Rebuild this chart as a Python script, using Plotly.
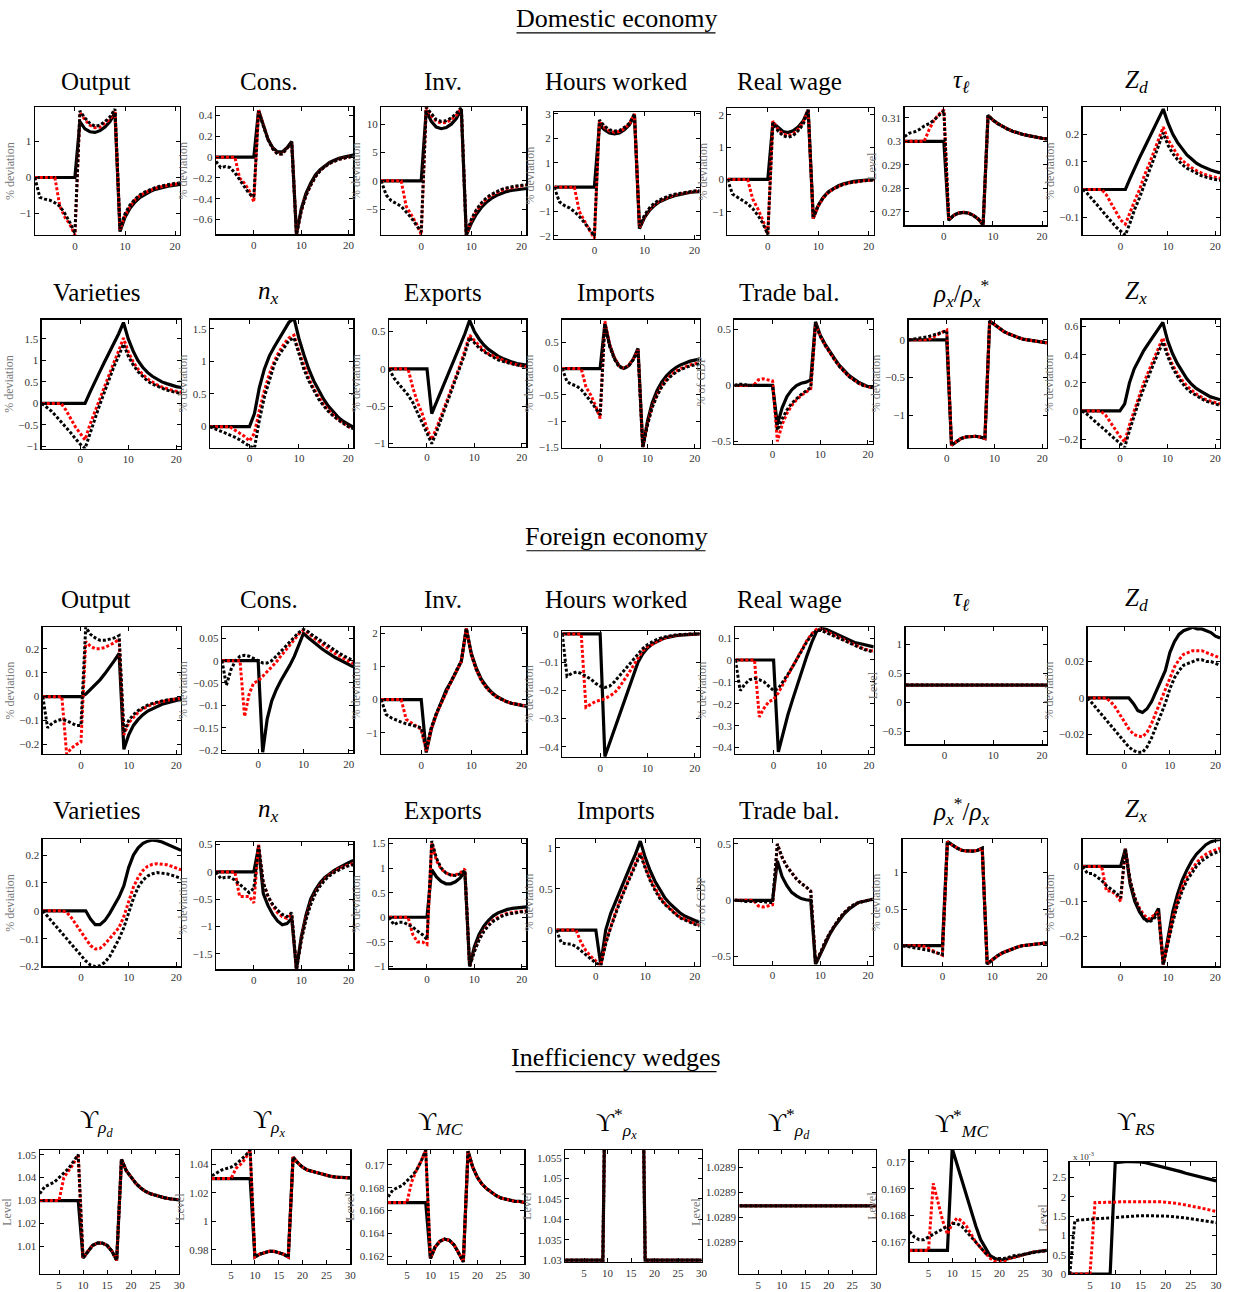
import plotly.graph_objects as go

# ---------------- time axes ----------------
t = list(range(-8, 22))          # periods for the economy panels
w = list(range(1, 31))           # periods for the wedge panels

# ---------------- Domestic economy ----------------
dom_output_solid = [0,0,0,0,0,0,0,0,0, 1.55,1.35,1.27,1.25,1.30,1.40,1.55,1.80, -1.50,-1.10,-0.85,-0.68,-0.55,-0.46,-0.39,-0.33,-0.29,-0.26,-0.23,-0.21,-0.19]
dom_output_red   = [0,0,0,0,0,-0.8,-1.1,-1.3,-1.6, 1.8,1.6,1.45,1.38,1.4,1.5,1.62,1.85, -1.45,-1.05,-0.8,-0.62,-0.5,-0.42,-0.35,-0.3,-0.26,-0.23,-0.2,-0.18,-0.16]
dom_output_black = [0,-0.55,-0.6,-0.63,-0.7,-0.8,-1.0,-1.25,-1.55, 1.85,1.65,1.5,1.42,1.45,1.55,1.68,1.9, -1.42,-1.0,-0.76,-0.6,-0.48,-0.4,-0.33,-0.28,-0.24,-0.21,-0.18,-0.16,-0.15]

dom_cons_solid = [0,0,0,0,0,0,0,0,0, 0.45,0.30,0.17,0.09,0.05,0.05,0.09,0.15, -0.74,-0.50,-0.35,-0.25,-0.17,-0.12,-0.08,-0.05,-0.03,-0.01,0.00,0.01,0.02]
dom_cons_red   = [0,0,0,0,0,-0.2,-0.25,-0.32,-0.43, 0.45,0.30,0.17,0.08,0.03,0.03,0.08,0.14, -0.74,-0.52,-0.37,-0.27,-0.19,-0.13,-0.09,-0.06,-0.04,-0.02,-0.01,0.00,0.01]
dom_cons_black = [-0.04,-0.1,-0.09,-0.1,-0.15,-0.22,-0.28,-0.35,-0.38, 0.44,0.30,0.17,0.08,0.03,0.03,0.08,0.14, -0.74,-0.52,-0.37,-0.27,-0.19,-0.13,-0.09,-0.06,-0.04,-0.02,-0.01,0.00,0.01]

dom_inv_solid = [0,0,0,0,0,0,0,0,0, 12.5,10.5,9.5,9.2,9.4,10.0,11.0,12.6, -9.6,-7.5,-5.9,-4.7,-3.8,-3.1,-2.6,-2.2,-1.9,-1.7,-1.55,-1.45,-1.35]
dom_inv_red   = [0,0,0,0,0,-4.5,-6.0,-7.5,-9.5, 13.0,11.5,10.5,10.2,10.3,10.8,11.6,12.8, -9.6,-7.0,-5.3,-4.1,-3.2,-2.6,-2.1,-1.7,-1.4,-1.2,-1.0,-0.9,-0.8]
dom_inv_black = [0,-2.5,-3.5,-4.0,-4.5,-5.5,-6.5,-7.8,-9.0, 13.0,11.8,10.8,10.5,10.6,11.1,11.9,13.0, -9.5,-6.8,-5.1,-3.9,-3.0,-2.4,-1.9,-1.5,-1.25,-1.05,-0.9,-0.8,-0.7]

dom_hours_solid = [0,0,0,0,0,0,0,0,0, 2.55,2.35,2.22,2.18,2.22,2.35,2.55,2.95, -1.7,-1.25,-0.95,-0.75,-0.6,-0.5,-0.42,-0.35,-0.3,-0.26,-0.22,-0.2,-0.18]
dom_hours_red   = [0,0,0,0,0,-1.0,-1.4,-1.75,-2.1, 2.7,2.45,2.3,2.25,2.28,2.4,2.6,3.0, -1.65,-1.2,-0.9,-0.7,-0.56,-0.46,-0.38,-0.32,-0.27,-0.23,-0.2,-0.17,-0.15]
dom_hours_black = [0,-0.6,-0.75,-0.85,-1.0,-1.2,-1.45,-1.75,-2.0, 2.75,2.5,2.35,2.3,2.32,2.45,2.62,3.0, -1.6,-1.15,-0.85,-0.65,-0.52,-0.42,-0.35,-0.29,-0.25,-0.21,-0.18,-0.16,-0.14]

dom_wage_solid = [0,0,0,0,0,0,0,0,0, 1.75,1.6,1.48,1.45,1.5,1.62,1.8,2.15, -1.2,-0.8,-0.55,-0.38,-0.27,-0.19,-0.13,-0.09,-0.06,-0.04,-0.02,-0.01,0.0]
dom_wage_red   = [0,0,0,0,0,-0.6,-0.9,-1.25,-1.7, 1.8,1.55,1.4,1.35,1.4,1.55,1.75,2.15, -1.2,-0.82,-0.57,-0.4,-0.29,-0.21,-0.15,-0.11,-0.08,-0.06,-0.04,-0.03,-0.02]
dom_wage_black = [0,-0.45,-0.55,-0.65,-0.75,-0.9,-1.1,-1.35,-1.7, 1.75,1.5,1.35,1.3,1.35,1.5,1.7,2.15, -1.15,-0.8,-0.56,-0.4,-0.29,-0.21,-0.15,-0.11,-0.08,-0.06,-0.04,-0.03,-0.02]

dom_tau_solid = [0.3,0.3,0.3,0.3,0.3,0.3,0.3,0.3,0.3, 0.2665,0.2685,0.2695,0.2698,0.2695,0.2685,0.267,0.2645, 0.311,0.309,0.3075,0.3062,0.3052,0.3043,0.3035,0.303,0.3025,0.302,0.3017,0.3013,0.301]
dom_tau_red   = [0.3,0.3,0.3,0.3,0.3,0.305,0.309,0.3115,0.3135, 0.2665,0.2685,0.2695,0.2698,0.2695,0.2685,0.267,0.2645, 0.311,0.309,0.3075,0.3062,0.3052,0.3043,0.3035,0.303,0.3025,0.302,0.3017,0.3013,0.301]
dom_tau_black = [0.302,0.3035,0.304,0.305,0.3065,0.3075,0.309,0.311,0.313, 0.2665,0.2685,0.2695,0.2698,0.2695,0.2685,0.267,0.2645, 0.311,0.309,0.3075,0.3062,0.3052,0.3043,0.3035,0.303,0.3025,0.302,0.3017,0.3013,0.301]

dom_zd_solid = [0,0,0,0,0,0,0,0,0,0, 0.04,0.08,0.115,0.15,0.185,0.22,0.255, 0.29,0.24,0.2,0.17,0.145,0.125,0.11,0.095,0.085,0.077,0.07,0.065,0.06]
dom_zd_red   = [0,0,0,0,0,-0.02,-0.05,-0.08,-0.11, -0.125,-0.08,-0.04,0.0,0.05,0.09,0.135,0.18, 0.225,0.18,0.15,0.125,0.105,0.09,0.078,0.068,0.06,0.053,0.048,0.043,0.04]
dom_zd_black = [0,-0.015,-0.035,-0.055,-0.075,-0.095,-0.115,-0.135,-0.15, -0.165,-0.12,-0.07,-0.03,0.02,0.065,0.11,0.16, 0.205,0.16,0.13,0.108,0.09,0.077,0.067,0.058,0.05,0.045,0.04,0.036,0.033]

dom_var_solid = [0,0,0,0,0,0,0,0,0,0, 0.25,0.5,0.72,0.95,1.17,1.4,1.62, 1.88,1.5,1.22,1.0,0.84,0.72,0.63,0.56,0.5,0.46,0.42,0.39,0.37]
dom_var_red   = [0,0,0,0,0,-0.15,-0.35,-0.55,-0.7, -0.85,-0.5,-0.2,0.1,0.38,0.66,0.95,1.22, 1.52,1.2,0.97,0.8,0.67,0.57,0.49,0.43,0.38,0.34,0.31,0.28,0.26]
dom_var_black = [0,-0.08,-0.18,-0.3,-0.42,-0.55,-0.68,-0.82,-0.95, -1.05,-0.7,-0.38,-0.05,0.25,0.55,0.85,1.1, 1.38,1.1,0.9,0.74,0.62,0.52,0.45,0.4,0.35,0.31,0.28,0.25,0.23]

dom_nx_solid = [0,0,0,0,0,0,0,0,0, 0.2,0.6,0.88,1.08,1.22,1.35,1.47,1.6, 1.66,1.35,1.1,0.88,0.7,0.55,0.42,0.31,0.22,0.14,0.08,0.03,-0.01]
dom_nx_red   = [0,0,0,0,0,-0.05,-0.1,-0.15,-0.22, -0.1,0.25,0.55,0.8,1.0,1.15,1.27,1.36, 1.4,1.15,0.93,0.74,0.58,0.45,0.34,0.25,0.17,0.1,0.05,0.0,-0.03]
dom_nx_black = [0,-0.03,-0.06,-0.09,-0.12,-0.16,-0.2,-0.25,-0.3, -0.33,0.1,0.45,0.72,0.95,1.1,1.22,1.32, 1.36,1.1,0.88,0.7,0.55,0.42,0.32,0.23,0.16,0.1,0.05,0.0,-0.03]

dom_exp_solid = [0,0,0,0,0,0,0,0,0, -0.6,-0.45,-0.3,-0.15,0.0,0.15,0.3,0.47, 0.65,0.5,0.4,0.32,0.26,0.21,0.17,0.14,0.11,0.09,0.07,0.06,0.05]
dom_exp_red   = [0,0,0,0,0,-0.25,-0.45,-0.6,-0.8, -0.95,-0.8,-0.63,-0.46,-0.3,-0.12,0.05,0.25, 0.45,0.38,0.31,0.25,0.2,0.17,0.14,0.11,0.09,0.07,0.05,0.04,0.03]
dom_exp_black = [0,-0.12,-0.2,-0.28,-0.35,-0.45,-0.58,-0.72,-0.86, -1.0,-0.85,-0.67,-0.5,-0.33,-0.15,0.02,0.2, 0.42,0.35,0.28,0.23,0.19,0.15,0.12,0.1,0.08,0.06,0.05,0.04,0.03]

dom_imp_solid = [0,0,0,0,0,0,0,0,0, 0.85,0.45,0.2,0.05,0.0,0.05,0.18,0.38, -1.5,-1.0,-0.65,-0.42,-0.26,-0.14,-0.05,0.02,0.07,0.11,0.14,0.16,0.18]
dom_imp_red   = [0,0,0,0,0,-0.35,-0.5,-0.7,-0.95, 0.9,0.45,0.2,0.05,0.0,0.06,0.18,0.35, -1.5,-1.05,-0.72,-0.5,-0.33,-0.21,-0.12,-0.05,0.0,0.04,0.07,0.09,0.11]
dom_imp_black = [0,-0.25,-0.3,-0.33,-0.4,-0.5,-0.62,-0.75,-0.88, 0.85,0.42,0.18,0.03,0.0,0.05,0.17,0.33, -1.5,-1.07,-0.74,-0.52,-0.35,-0.23,-0.14,-0.07,-0.02,0.02,0.05,0.07,0.09]

dom_tb_solid = [0,0,0,0,0,0,0,0,0, -0.35,-0.2,-0.1,-0.04,0.0,0.02,0.03,0.05, 0.57,0.45,0.37,0.3,0.24,0.18,0.13,0.09,0.06,0.03,0.01,-0.01,-0.02]
dom_tb_red   = [0,0,0,0,0,0.05,0.06,0.05,0.04, -0.5,-0.35,-0.25,-0.18,-0.13,-0.09,-0.06,-0.03, 0.55,0.44,0.36,0.29,0.23,0.17,0.12,0.08,0.05,0.02,0.0,-0.01,-0.02]
dom_tb_black = [0,0.01,0.01,0.0,0.0,0.0,0.0,0.0,0.0, -0.4,-0.3,-0.22,-0.16,-0.12,-0.08,-0.05,-0.02, 0.55,0.44,0.36,0.29,0.23,0.17,0.12,0.08,0.05,0.02,0.0,-0.01,-0.02]

dom_rho_solid = [0,0,0,0,0,0,0,0,0, -1.4,-1.35,-1.31,-1.29,-1.28,-1.28,-1.29,-1.31, 0.25,0.2,0.15,0.11,0.08,0.05,0.03,0.01,0.0,-0.01,-0.02,-0.03,-0.04]
dom_rho_red   = [0,0,0,0,0,0.03,0.07,0.1,0.13, -1.4,-1.35,-1.31,-1.29,-1.28,-1.28,-1.29,-1.31, 0.25,0.2,0.15,0.11,0.08,0.05,0.03,0.01,0.0,-0.01,-0.02,-0.03,-0.04]
dom_rho_black = [0,0.01,0.02,0.03,0.04,0.06,0.08,0.1,0.12, -1.4,-1.35,-1.31,-1.29,-1.28,-1.28,-1.29,-1.31, 0.25,0.2,0.15,0.11,0.08,0.05,0.03,0.01,0.0,-0.01,-0.02,-0.03,-0.04]

dom_zx_solid = [0,0,0,0,0,0,0,0,0, 0.05,0.2,0.3,0.37,0.43,0.48,0.53,0.57, 0.63,0.5,0.41,0.34,0.28,0.23,0.19,0.16,0.14,0.12,0.1,0.09,0.08]
dom_zx_red   = [0,0,0,0,0,-0.03,-0.08,-0.13,-0.18, -0.22,-0.1,0.0,0.1,0.2,0.28,0.36,0.44, 0.52,0.41,0.33,0.27,0.22,0.18,0.15,0.12,0.1,0.08,0.07,0.06,0.05]
dom_zx_black = [0,-0.02,-0.05,-0.08,-0.11,-0.14,-0.17,-0.2,-0.23, -0.26,-0.14,-0.03,0.07,0.16,0.25,0.33,0.41, 0.49,0.39,0.31,0.25,0.2,0.16,0.13,0.11,0.09,0.07,0.06,0.05,0.04]

# ---------------- Foreign economy ----------------
for_output_solid = [0,0,0,0,0,0,0,0,0, 0.01,0.03,0.05,0.07,0.095,0.12,0.15,0.18, -0.22,-0.16,-0.12,-0.095,-0.075,-0.06,-0.05,-0.04,-0.032,-0.026,-0.02,-0.016,-0.012]
for_output_red   = [0,0,0,0,0,-0.24,-0.215,-0.2,-0.19, 0.23,0.21,0.2,0.2,0.205,0.215,0.225,0.24, -0.16,-0.11,-0.085,-0.065,-0.05,-0.04,-0.032,-0.026,-0.02,-0.016,-0.012,-0.009,-0.007]
for_output_black = [0,-0.13,-0.11,-0.1,-0.095,-0.1,-0.11,-0.12,-0.12, 0.29,0.26,0.245,0.235,0.235,0.24,0.245,0.255, -0.15,-0.1,-0.075,-0.058,-0.045,-0.035,-0.028,-0.022,-0.018,-0.014,-0.011,-0.008,-0.006]

for_cons_solid = [0,0,0,0,0,0,0,0,0, -0.205,-0.13,-0.09,-0.065,-0.045,-0.028,-0.01,0.01, 0.035,0.061,0.052,0.043,0.035,0.027,0.02,0.013,0.007,0.002,-0.004,-0.01,-0.014]
for_cons_red   = [0,0,0,0,0,-0.125,-0.075,-0.05,-0.045, -0.035,-0.025,-0.015,-0.003,0.01,0.022,0.035,0.048, 0.06,0.068,0.062,0.053,0.045,0.037,0.03,0.023,0.016,0.01,0.004,-0.002,-0.007]
for_cons_black = [0,-0.055,-0.02,0.0,0.01,0.012,0.01,0.005,0.0, -0.005,-0.005,0.0,0.01,0.02,0.03,0.042,0.053, 0.063,0.07,0.065,0.057,0.05,0.042,0.035,0.028,0.022,0.016,0.01,0.005,0.0]

for_inv_solid = [0,0,0,0,0,0,0,0,0, -1.6,-0.9,-0.45,-0.05,0.3,0.55,0.85,1.15, 2.15,1.4,0.95,0.62,0.4,0.23,0.1,0.01,-0.06,-0.11,-0.15,-0.18,-0.2]
for_inv_red   = [0,0,0,0,0,-0.6,-0.7,-0.78,-0.9, -1.55,-0.9,-0.45,-0.1,0.25,0.55,0.85,1.15, 2.15,1.35,0.9,0.58,0.36,0.2,0.08,0.0,-0.06,-0.11,-0.14,-0.17,-0.19]
for_inv_black = [0,-0.45,-0.55,-0.62,-0.68,-0.73,-0.77,-0.8,-0.85, -1.5,-0.85,-0.42,-0.08,0.27,0.57,0.87,1.17, 2.15,1.35,0.9,0.58,0.36,0.2,0.08,0.0,-0.06,-0.11,-0.14,-0.17,-0.19]

for_hours_solid = [0,0,0,0,0,0,0,0,0, -0.435,-0.387,-0.34,-0.292,-0.244,-0.196,-0.148,-0.1, -0.07,-0.05,-0.036,-0.026,-0.019,-0.013,-0.009,-0.006,-0.004,-0.003,-0.002,-0.001,0.0]
for_hours_red   = [0,0,0,0,0,-0.26,-0.25,-0.24,-0.235, -0.23,-0.22,-0.21,-0.19,-0.166,-0.14,-0.113,-0.085, -0.06,-0.045,-0.037,-0.026,-0.018,-0.012,-0.008,-0.005,-0.003,-0.002,-0.001,0.0,0.0]
for_hours_black = [0,-0.15,-0.14,-0.135,-0.14,-0.15,-0.16,-0.175,-0.185, -0.19,-0.185,-0.17,-0.15,-0.13,-0.11,-0.09,-0.07, -0.052,-0.038,-0.027,-0.019,-0.013,-0.009,-0.006,-0.004,-0.002,-0.001,0.0,0.0,0.0]

for_wage_solid = [0,0,0,0,0,0,0,0,0, -0.42,-0.33,-0.25,-0.18,-0.11,-0.04,0.02,0.08, 0.13,0.145,0.14,0.13,0.12,0.11,0.1,0.09,0.08,0.075,0.07,0.065,0.06]
for_wage_red   = [0,0,0,0,0,-0.26,-0.22,-0.19,-0.18, -0.15,-0.11,-0.07,-0.03,0.01,0.05,0.09,0.12, 0.14,0.14,0.13,0.12,0.11,0.1,0.09,0.08,0.07,0.06,0.05,0.045,0.04]
for_wage_black = [0,-0.14,-0.11,-0.09,-0.085,-0.09,-0.1,-0.12,-0.14, -0.13,-0.1,-0.065,-0.03,0.01,0.05,0.085,0.115, 0.135,0.135,0.125,0.115,0.105,0.095,0.085,0.075,0.065,0.055,0.048,0.042,0.036]

for_tau_solid = [0.3] * 30
for_tau_red   = [0.3] * 30
for_tau_black = [0.3] * 30

for_zd_solid = [0,0,0,0,0,0,0,0,0,0, -0.003,-0.007,-0.008,-0.006,-0.002,0.004,0.009, 0.015,0.025,0.031,0.035,0.037,0.038,0.039,0.038,0.038,0.037,0.036,0.034,0.033]
for_zd_red   = [0,0,0,0,0,-0.002,-0.005,-0.009,-0.013, -0.017,-0.02,-0.021,-0.0215,-0.019,-0.014,-0.008,-0.002, 0.004,0.011,0.017,0.021,0.024,0.025,0.026,0.026,0.026,0.025,0.024,0.023,0.022]
for_zd_black = [0,-0.003,-0.006,-0.009,-0.012,-0.015,-0.018,-0.021,-0.024, -0.027,-0.029,-0.03,-0.03,-0.027,-0.022,-0.016,-0.009, -0.003,0.005,0.011,0.015,0.018,0.019,0.02,0.021,0.021,0.02,0.02,0.019,0.018]

for_var_solid = [0,0,0,0,0,0,0,0,0,0, -0.03,-0.05,-0.05,-0.035,-0.01,0.02,0.05, 0.09,0.155,0.2,0.226,0.242,0.25,0.254,0.252,0.247,0.24,0.232,0.224,0.217]
for_var_red   = [0,0,0,0,0,-0.005,-0.025,-0.05,-0.075, -0.1,-0.125,-0.137,-0.135,-0.12,-0.1,-0.08,-0.06, -0.02,0.035,0.085,0.12,0.145,0.16,0.167,0.169,0.168,0.165,0.16,0.154,0.147]
for_var_black = [0,-0.02,-0.04,-0.06,-0.08,-0.1,-0.12,-0.14,-0.16, -0.18,-0.195,-0.2,-0.197,-0.185,-0.165,-0.135,-0.1, -0.06,-0.005,0.045,0.085,0.11,0.125,0.133,0.137,0.136,0.133,0.128,0.122,0.116]

for_nx_solid = [0,0,0,0,0,0,0,0,0, 0.45,-0.4,-0.62,-0.78,-0.9,-0.97,-0.95,-0.85, -1.79,-1.2,-0.8,-0.5,-0.33,-0.2,-0.1,-0.03,0.03,0.08,0.13,0.17,0.21]
for_nx_red   = [0,0,0,0,0,-0.45,-0.45,-0.45,-0.57, 0.5,-0.2,-0.45,-0.62,-0.75,-0.82,-0.85,-0.78, -1.79,-1.25,-0.85,-0.57,-0.38,-0.24,-0.13,-0.05,0.01,0.06,0.1,0.13,0.15]
for_nx_black = [0,-0.12,-0.1,-0.1,-0.15,-0.22,-0.3,-0.38,-0.3, 0.48,-0.2,-0.45,-0.6,-0.7,-0.78,-0.82,-0.75, -1.79,-1.27,-0.88,-0.6,-0.4,-0.26,-0.15,-0.07,-0.01,0.04,0.08,0.11,0.13]

for_exp_solid = [0,0,0,0,0,0,0,0,0, 0.97,0.82,0.73,0.68,0.68,0.72,0.8,0.93, -1.0,-0.6,-0.35,-0.18,-0.06,0.03,0.09,0.13,0.16,0.18,0.19,0.2,0.21]
for_exp_red   = [0,0,0,0,0,-0.35,-0.5,-0.5,-0.55, 1.5,1.15,0.98,0.9,0.86,0.86,0.9,0.98, -1.0,-0.68,-0.44,-0.27,-0.15,-0.06,0.0,0.05,0.08,0.1,0.11,0.12,0.13]
for_exp_black = [0,-0.15,-0.1,-0.1,-0.15,-0.2,-0.28,-0.35,-0.45, 1.55,1.2,1.0,0.9,0.86,0.85,0.88,0.95, -1.0,-0.7,-0.46,-0.29,-0.17,-0.08,-0.02,0.03,0.06,0.08,0.1,0.11,0.12]

for_imp_solid = [0,0,0,0,0,0,0,0,0, -0.42,0.0,0.2,0.35,0.5,0.63,0.78,0.92, 1.08,0.88,0.72,0.59,0.48,0.39,0.32,0.26,0.21,0.17,0.14,0.11,0.09]
for_imp_red   = [0,0,0,0,0,-0.15,-0.25,-0.32,-0.38, -0.43,-0.15,0.05,0.22,0.38,0.53,0.67,0.81, 0.95,0.77,0.62,0.5,0.4,0.32,0.26,0.21,0.16,0.13,0.1,0.08,0.06]
for_imp_black = [0,-0.15,-0.17,-0.17,-0.2,-0.25,-0.3,-0.35,-0.4, -0.43,-0.17,0.03,0.2,0.36,0.51,0.65,0.79, 0.92,0.75,0.6,0.48,0.38,0.31,0.25,0.2,0.15,0.12,0.09,0.07,0.05]

for_tb_solid = [0,0,0,0,0,0,0,0,0, 0.35,0.21,0.13,0.07,0.04,0.015,0.005,0.0, -0.57,-0.48,-0.38,-0.3,-0.23,-0.17,-0.12,-0.08,-0.05,-0.02,-0.01,0.0,0.01]
for_tb_red   = [0,0,0,0,0,-0.05,-0.06,-0.05,-0.04, 0.5,0.38,0.3,0.24,0.19,0.15,0.12,0.08, -0.55,-0.47,-0.37,-0.29,-0.22,-0.16,-0.11,-0.07,-0.04,-0.02,-0.01,0.0,0.01]
for_tb_black = [0,0.0,-0.01,-0.01,-0.01,-0.01,-0.01,-0.02,-0.02, 0.5,0.38,0.3,0.24,0.19,0.15,0.12,0.08, -0.55,-0.47,-0.37,-0.29,-0.22,-0.16,-0.11,-0.07,-0.04,-0.02,-0.01,0.0,0.01]

for_rho_solid = [0,0,0,0,0,0,0,0,0, 1.42,1.37,1.33,1.3,1.29,1.29,1.3,1.33, -0.25,-0.19,-0.14,-0.1,-0.07,-0.04,-0.02,0.0,0.01,0.02,0.03,0.035,0.04]
for_rho_red   = [0,0,0,0,0,-0.03,-0.07,-0.1,-0.13, 1.42,1.37,1.33,1.3,1.29,1.29,1.3,1.33, -0.25,-0.19,-0.14,-0.1,-0.07,-0.04,-0.02,0.0,0.01,0.02,0.03,0.035,0.04]
for_rho_black = [0,-0.01,-0.02,-0.03,-0.05,-0.06,-0.08,-0.1,-0.12, 1.42,1.37,1.33,1.3,1.29,1.29,1.3,1.33, -0.25,-0.19,-0.14,-0.1,-0.07,-0.04,-0.02,0.0,0.01,0.02,0.03,0.035,0.04]

for_zx_solid = [0,0,0,0,0,0,0,0,0, 0.05,-0.05,-0.1,-0.13,-0.15,-0.155,-0.145,-0.12, -0.28,-0.2,-0.13,-0.08,-0.04,-0.01,0.015,0.035,0.05,0.062,0.07,0.075,0.077]
for_zx_red   = [0,0,0,0,0,-0.07,-0.07,-0.08,-0.1, 0.05,-0.04,-0.09,-0.12,-0.14,-0.15,-0.14,-0.13, -0.28,-0.21,-0.15,-0.1,-0.06,-0.03,-0.01,0.01,0.025,0.035,0.042,0.048,0.052]
for_zx_black = [0,-0.02,-0.02,-0.03,-0.04,-0.055,-0.065,-0.075,-0.09, 0.05,-0.04,-0.09,-0.125,-0.15,-0.16,-0.15,-0.135, -0.28,-0.22,-0.16,-0.11,-0.07,-0.04,-0.02,0.0,0.015,0.025,0.033,0.039,0.043]

# ---------------- Inefficiency wedges ----------------
w_rhod_solid = [1.03]*9 + [1.005,1.008,1.0105,1.0115,1.0115,1.0105,1.008,1.004, 1.048,1.043,1.04,1.0375,1.0355,1.034,1.033,1.0323,1.0317,1.0312,1.0308,1.0305,1.0303]
w_rhod_red   = [1.03,1.03,1.03,1.03,1.03,1.04,1.043,1.046,1.05] + w_rhod_solid[9:]
w_rhod_black = [1.033,1.036,1.037,1.038,1.04,1.042,1.044,1.047,1.05] + w_rhod_solid[9:]

w_rhox_solid = [1.03]*9 + [0.975,0.977,0.978,0.979,0.979,0.978,0.977,0.975, 1.045,1.041,1.038,1.036,1.035,1.034,1.033,1.032,1.0315,1.031,1.031,1.0305,1.0305]
w_rhox_red   = [1.03,1.03,1.03,1.03,1.03,1.037,1.04,1.044,1.05] + w_rhox_solid[9:]
w_rhox_black = [1.032,1.034,1.036,1.037,1.038,1.04,1.043,1.046,1.05] + w_rhox_solid[9:]

w_mc_solid = [0.1667]*9 + [0.1618,0.1628,0.1633,0.1635,0.1634,0.163,0.1623,0.1615, 0.1712,0.1698,0.1689,0.1683,0.1679,0.1676,0.1673,0.1671,0.167,0.1669,0.1668,0.1668,0.1667]
w_mc_red   = [0.1667,0.1667,0.1667,0.1667,0.1667,0.1685,0.1695,0.1703,0.1713] + w_mc_solid[9:]
w_mc_black = [0.1672,0.1678,0.168,0.1682,0.1686,0.169,0.1695,0.1703,0.1713] + w_mc_solid[9:]

w_rhoxs_solid = [1.03]*9 + [1.12]*8 + [1.03]*13
w_rhoxs_red   = [1.03]*9 + [1.12]*8 + [1.03]*13
w_rhoxs_black = [1.03]*9 + [1.12]*8 + [1.03]*13

w_rhods_solid = [1.028889]*30
w_rhods_red   = [1.028889]*30
w_rhods_black = [1.028889]*30

w_mcs_solid = [0.1667]*9 + [0.1705,0.1699,0.1693,0.1687,0.1681,0.1676,0.1671,0.1668, 0.1665,0.1664,0.16635,0.16635,0.1664,0.16645,0.1665,0.16655,0.1666,0.16663,0.16666,0.16668,0.1667]
w_mcs_red   = [0.1667,0.1667,0.1667,0.1667,0.1667,0.1692,0.1685,0.1678,0.1673, 0.1677,0.1679,0.1678,0.1676,0.1673,0.167,0.1668,0.1666, 0.1664,0.1663,0.1663,0.1663,0.1664,0.16645,0.1665,0.16655,0.1666,0.16663,0.16666,0.16668,0.1667]
w_mcs_black = [0.1674,0.1672,0.1671,0.1671,0.1672,0.1673,0.1674,0.1675,0.1676, 0.1677,0.1677,0.1676,0.1674,0.1672,0.167,0.1668,0.1666, 0.1665,0.1664,0.1664,0.1664,0.16645,0.1665,0.16652,0.16655,0.1666,0.16663,0.16666,0.16668,0.1667]

w_rs_solid = [0,0,0,0,0,0,0,0,0, 2.88,2.9,2.91,2.91,2.91,2.9,2.88,2.85, 2.82,2.79,2.75,2.72,2.68,2.65,2.61,2.58,2.55,2.51,2.48,2.44,2.41]   # x 10^-3
w_rs_red   = [0,0,0,0,0,1.85,1.85,1.86,1.86, 1.86,1.87,1.87,1.88,1.88,1.88,1.88,1.88, 1.88,1.87,1.86,1.85,1.83,1.81,1.79,1.76,1.74,1.71,1.68,1.65,1.62]
w_rs_black = [0,1.38,1.4,1.41,1.42,1.43,1.44,1.45,1.46, 1.47,1.48,1.49,1.5,1.5,1.51,1.51,1.51, 1.51,1.5,1.5,1.49,1.48,1.46,1.45,1.43,1.41,1.39,1.37,1.35,1.33]

# ---------------- panel layout (positions in pixels of the 1240x1292 page) ----------------
W, H = 1240, 1292
def px(x):
    return x / W
def py(y):
    return 1 - y / H

DEV, LEV, GDP = "% deviation", "Level", "% of GDP"
TX = [0, 10, 20]
WX = [5, 10, 15, 20, 25, 30]
UPS = "ϒ"

panels = [
    # title, data(s,r,b), x-kind, box(x0,x1,y0,y1), yrange, yticks, ylabel, title(x,y)
    ("Output", (dom_output_solid, dom_output_red, dom_output_black), "t", (35,181,104,233), (-1.6,1.95), [-1,0,1], DEV, (96,78)),
    ("Cons.", (dom_cons_solid, dom_cons_red, dom_cons_black), "t", (217,355,104,232), (-0.74,0.48), [-0.6,-0.4,-0.2,0,0.2,0.4], DEV, (270,78)),
    ("Inv.", (dom_inv_solid, dom_inv_red, dom_inv_black), "t", (383,529,104,233), (-9.6,13), [-5,0,5,10], DEV, (445,78)),
    ("Hours worked", (dom_hours_solid, dom_hours_red, dom_hours_black), "t", (557,703,109,237), (-2.13,3.07), [-2,-1,0,1,2,3], DEV, (619,78)),
    ("Real wage", (dom_wage_solid, dom_wage_red, dom_wage_black), "t", (731,878,105,233), (-1.72,2.2), [-1,0,1,2], DEV, (793,78)),
    ("<i>τ</i><sub><i>ℓ</i></sub>", (dom_tau_solid, dom_tau_red, dom_tau_black), "t", (909,1052,104,223), (0.2643,0.3145), [0.27,0.28,0.29,0.3,0.31], LEV, (966,78)),
    ("<i>Z</i><sub><i>d</i></sub>", (dom_zd_solid, dom_zd_red, dom_zd_black), "t", (1088,1226,104,233), (-0.165,0.297), [-0.1,0,0.1,0.2], DEV, (1142,78)),

    ("Varieties", (dom_var_solid, dom_var_red, dom_var_black), "t", (42,182,318,448), (-1.05,1.95), [-1,-0.5,0,0.5,1,1.5], DEV, (97,291)),
    ("<i>n</i><sub><i>x</i></sub>", (dom_nx_solid, dom_nx_red, dom_nx_black), "t", (211,355,318,447), (-0.32,1.64), [0,0.5,1,1.5], DEV, (270,291)),
    ("Exports", (dom_exp_solid, dom_exp_red, dom_exp_black), "t", (391,529,318,446), (-1.04,0.66), [-1,-0.5,0,0.5], DEV, (445,291)),
    ("Imports", (dom_imp_solid, dom_imp_red, dom_imp_black), "t", (565,703,318,447), (-1.5,0.93), [-1.5,-1,-0.5,0,0.5], DEV, (619,291)),
    ("Trade bal.", (dom_tb_solid, dom_tb_red, dom_tb_black), "t", (738,877,318,443), (-0.52,0.59), [-0.5,0,0.5], GDP, (793,291)),
    ("<i>ρ</i><sub><i>x</i></sub>/<i>ρ</i><sub><i>x</i></sub><sup>*</sup>", (dom_rho_solid, dom_rho_red, dom_rho_black), "t", (913,1052,318,447), (-1.43,0.27), [-1,-0.5,0], DEV, (966,291)),
    ("<i>Z</i><sub><i>x</i></sub>", (dom_zx_solid, dom_zx_red, dom_zx_black), "t", (1087,1226,318,447), (-0.26,0.65), [-0.2,0,0.2,0.4,0.6], DEV, (1142,291)),

    ("Output", (for_output_solid, for_output_red, for_output_black), "t", (43,182,628,756), (-0.24,0.29), [-0.2,-0.1,0,0.1,0.2], DEV, (96,600)),
    ("Cons.", (for_cons_solid, for_cons_red, for_cons_black), "t", (223,355,628,755), (-0.207,0.075), [-0.2,-0.15,-0.1,-0.05,0,0.05], DEV, (270,600)),
    ("Inv.", (for_inv_solid, for_inv_red, for_inv_black), "t", (383,529,628,756), (-1.65,2.19), [-1,0,1,2], DEV, (445,600)),
    ("Hours worked", (for_hours_solid, for_hours_red, for_hours_black), "t", (565,703,632,759), (-0.437,0.01), [-0.4,-0.3,-0.2,-0.1,0], DEV, (619,600)),
    ("Real wage", (for_wage_solid, for_wage_red, for_wage_black), "t", (739,878,628,756), (-0.43,0.15), [-0.4,-0.3,-0.2,-0.1,0,0.1], DEV, (793,600)),
    ("<i>τ</i><sub><i>ℓ</i></sub>", (for_tau_solid, for_tau_red, for_tau_black), "t", (910,1052,628,746), (-0.72,1.3), [-0.5,0,0.5,1], LEV, (966,600)),
    ("<i>Z</i><sub><i>d</i></sub>", (for_zd_solid, for_zd_red, for_zd_black), "t", (1093,1226,628,756), (-0.031,0.039), [-0.02,0,0.02], DEV, (1142,600)),

    ("Varieties", (for_var_solid, for_var_red, for_var_black), "t", (43,182,842,970), (-0.2,0.256), [-0.2,-0.1,0,0.1,0.2], DEV, (97,813)),
    ("<i>n</i><sub><i>x</i></sub>", (for_nx_solid, for_nx_red, for_nx_black), "t", (217,355,845,973), (-1.79,0.54), [-1.5,-1,-0.5,0,0.5], DEV, (270,813)),
    ("Exports", (for_exp_solid, for_exp_red, for_exp_black), "t", (391,529,842,972), (-1.04,1.58), [-1,-0.5,0,0.5,1,1.5], DEV, (445,813)),
    ("Imports", (for_imp_solid, for_imp_red, for_imp_black), "t", (559,703,842,969), (-0.43,1.1), [0,0.5,1], DEV, (619,813)),
    ("Trade bal.", (for_tb_solid, for_tb_red, for_tb_black), "t", (738,877,842,968), (-0.57,0.54), [-0.5,0,0.5], GDP, (793,813)),
    ("<i>ρ</i><sub><i>x</i></sub><sup>*</sup>/<i>ρ</i><sub><i>x</i></sub>", (for_rho_solid, for_rho_red, for_rho_black), "t", (907,1052,842,969), (-0.27,1.45), [0,0.5,1], DEV, (966,813)),
    ("<i>Z</i><sub><i>x</i></sub>", (for_zx_solid, for_zx_red, for_zx_black), "t", (1088,1226,842,970), (-0.286,0.077), [-0.2,-0.1,0], DEV, (1142,813)),

    (UPS + "<sub><i>ρ</i><sub><i>d</i></sub></sub>", (w_rhod_solid, w_rhod_red, w_rhod_black), "w", (40,180,1155,1280), (0.998,1.052), [1.01,1.02,1.03,1.04,1.05], LEV, (97,1128)),
    (UPS + "<sub><i>ρ</i><sub><i>x</i></sub></sub>", (w_rhox_solid, w_rhox_red, w_rhox_black), "w", (213,352,1155,1270), (0.97,1.05), [0.98,1,1.02,1.04], LEV, (270,1128)),
    (UPS + "<sub><i>MC</i></sub>", (w_mc_solid, w_mc_red, w_mc_black), "w", (390,527,1155,1270), (0.1613,0.1713), [0.162,0.164,0.166,0.168,0.17], LEV, (443,1128)),
    (UPS + "<sup>*</sup><sub><i>ρ</i><sub><i>x</i></sub></sub>", (w_rhoxs_solid, w_rhoxs_red, w_rhoxs_black), "w", (568,705,1155,1268), (1.0295,1.057), [1.03,1.035,1.04,1.045,1.05,1.055], LEV, (619,1128)),
    (UPS + "<sup>*</sup><sub><i>ρ</i><sub><i>d</i></sub></sub>", (w_rhods_solid, w_rhods_red, w_rhods_black), "w", (743,880,1155,1280), (1.028834,1.028934), [1.02886,1.02888,1.0289,1.02892], LEV, (793,1128)),
    (UPS + "<sup>*</sup><sub><i>MC</i></sub>", (w_mcs_solid, w_mcs_red, w_mcs_black), "w", (914,1052,1155,1268), (0.16626,0.17044), [0.167,0.168,0.169,0.17], LEV, (966,1128)),
    (UPS + "<sub><i>RS</i></sub>", (w_rs_solid, w_rs_red, w_rs_black), "w", (1075,1222,1167,1280), (0,2.9), [0,0.5,1,1.5,2,2.5], LEV, (1142,1128)),
]

for p in panels:
    for s in p[1]:
        assert len(s) == 30, p[0]

SERIF = "Liberation Serif"
axstyle = dict(showline=True, linecolor="black", linewidth=1.3, mirror="allticks",
               ticks="inside", ticklen=4, tickwidth=1, tickcolor="black",
               showgrid=False, zeroline=False,
               tickfont=dict(family=SERIF, size=11, color="#333333"))

fig = go.Figure()
layout = {}
annotations = []
styles = [("black", "solid", 3.2), ("red", "3px,2px", 3), ("black", "3px,2px", 3)]

for i, (title, data, kind, box, yr, yt, ylab, tpos) in enumerate(panels):
    k = i + 1
    xa = "x" if k == 1 else f"x{k}"
    ya = "y" if k == 1 else f"y{k}"
    xs = t if kind == "t" else w
    for series, (col, dash, lw) in zip(data, styles):
        fig.add_trace(go.Scatter(x=xs, y=series, mode="lines",
                                 line=dict(color=col, width=lw, dash=dash),
                                 xaxis=xa, yaxis=ya, showlegend=False, hoverinfo="skip"))
    x0, x1, y0, y1 = box
    xr = [-8, 21] if kind == "t" else [1, 30]
    xt = TX if kind == "t" else WX
    layout[f"xaxis{k}"] = dict(domain=[px(x0), px(x1)], anchor=ya, range=xr,
                               tickvals=xt, **axstyle)
    yax = dict(domain=[py(y1), py(y0)], anchor=xa, range=list(yr),
               tickvals=yt,
               title=dict(text=ylab, standoff=2,
                          font=dict(family=SERIF, size=12, color="#777777")),
               **axstyle)
    if abs(yr[0] - 1.028834) < 1e-9:
        yax["ticktext"] = ["1.0289"] * len(yt)
    layout[f"yaxis{k}"] = yax
    annotations.append(dict(text=title, x=px(tpos[0]), y=py(tpos[1]),
                            xref="paper", yref="paper", showarrow=False,
                            xanchor="center", yanchor="middle",
                            font=dict(family=SERIF, size=25, color="black")))

# section headers
sections = [("Domestic economy", 619, 15, 519, 719, 29),
            ("Foreign economy", 619, 537, 529, 709, 551),
            ("Inefficiency wedges", 619, 1062, 518, 720, 1076)]
shapes = []
for txt, cx, cy, ux0, ux1, uy in sections:
    annotations.append(dict(text=txt, x=px(cx), y=py(cy), xref="paper", yref="paper",
                            showarrow=False, xanchor="center", yanchor="middle",
                            font=dict(family=SERIF, size=26, color="black")))
    shapes.append(dict(type="line", xref="paper", yref="paper",
                       x0=px(ux0), x1=px(ux1), y0=py(uy), y1=py(uy),
                       line=dict(color="black", width=1.2)))

# exponent label of the last wedge panel
annotations.append(dict(text="x 10<sup>-3</sup>", x=px(1076), y=py(1161),
                        xref="paper", yref="paper", showarrow=False,
                        xanchor="left", yanchor="middle",
                        font=dict(family=SERIF, size=9, color="#333333")))

fig.update_layout(width=W, height=H, margin=dict(l=0, r=0, t=0, b=0),
                  paper_bgcolor="white", plot_bgcolor="white",
                  annotations=annotations, shapes=shapes, **layout)

fig.write_html("out.html",
               config={"displayModeBar": False, "staticPlot": True},
               post_script="document.body.style.margin='0';document.body.style.overflow='hidden';")
